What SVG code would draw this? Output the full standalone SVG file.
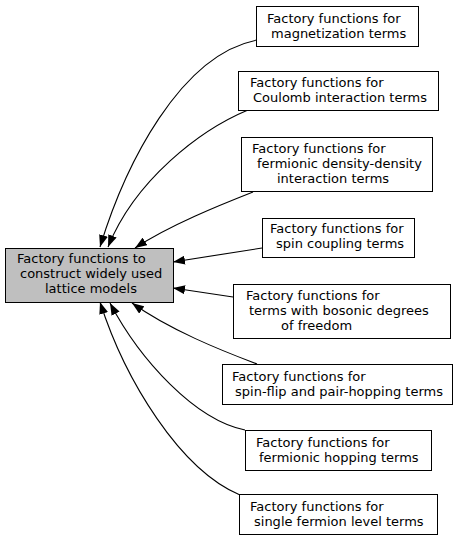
<svg xmlns="http://www.w3.org/2000/svg" width="460" height="541" viewBox="0 0 460 541">
<style>
.box{fill:#ffffff;stroke:#000000;stroke-width:1}
.main{fill:#bfbfbf;stroke:#000000;stroke-width:1}
text{font-family:"DejaVu Sans",sans-serif;font-size:13px;fill:#000000}
.edge{fill:none;stroke:#000000;stroke-width:1.1;marker-end:url(#ah)}
</style>
<defs>
<marker id="ah" viewBox="0 0 12 9" refX="12" refY="4.5" markerWidth="12" markerHeight="9" markerUnits="userSpaceOnUse" orient="auto">
<path d="M0,0 L12,4.5 L0,9 z" fill="#000000"/>
</marker>
</defs>
<rect width="460" height="541" fill="#ffffff"/>
<g id="connectors">
<path class="edge" d="M257,40 C180,55 125,165 100,247"/>
<path class="edge" d="M248,110 C200,130 135,180 108,247"/>
<path class="edge" d="M253,192 C220,205 170,225 135,248"/>
<path class="edge" d="M262,248 L173,262"/>
<path class="edge" d="M233,297 L173,288"/>
<path class="edge" d="M257,364 C220,350 170,330 132,303"/>
<path class="edge" d="M245,430 C195,420 140,360 110,303"/>
<path class="edge" d="M240,495 C180,470 125,380 100,302"/>
</g>
<g id="main">
<rect class="main" x="5.5" y="248.5" width="168" height="54"/>
<text x="17" y="263">Factory functions to</text>
<text x="20" y="278">construct widely used</text>
<text x="45" y="293">lattice models</text>
</g>
<g id="magnetization">
<rect class="box" x="256.5" y="6.5" width="162" height="40"/>
<text x="267" y="22.5">Factory functions for</text>
<text x="271" y="37.5">magnetization terms</text>
</g>
<g id="coulomb">
<rect class="box" x="238.5" y="71.5" width="200" height="39"/>
<text x="250" y="87">Factory functions for</text>
<text x="253" y="102">Coulomb interaction terms</text>
</g>
<g id="density">
<rect class="box" x="241.5" y="137.5" width="191" height="54"/>
<text x="252" y="153">Factory functions for</text>
<text x="257" y="168">fermionic density-density</text>
<text x="277" y="183">interaction terms</text>
</g>
<g id="spincoupling">
<rect class="box" x="262.5" y="218.5" width="152" height="39"/>
<text x="270" y="233">Factory functions for</text>
<text x="276" y="248">spin coupling terms</text>
</g>
<g id="bosonic">
<rect class="box" x="233.5" y="284.5" width="217" height="54"/>
<text x="246" y="300">Factory functions for</text>
<text x="249" y="315">terms with bosonic degrees</text>
<text x="281" y="330">of freedom</text>
</g>
<g id="spinflip">
<rect class="box" x="222.5" y="364.5" width="230" height="40"/>
<text x="232" y="381">Factory functions for</text>
<text x="235" y="396">spin-flip and pair-hopping terms</text>
</g>
<g id="hopping">
<rect class="box" x="245.5" y="430.5" width="186" height="40"/>
<text x="256" y="447">Factory functions for</text>
<text x="259" y="462">fermionic hopping terms</text>
</g>
<g id="singlelevel">
<rect class="box" x="239.5" y="494.5" width="198" height="40"/>
<text x="250" y="511">Factory functions for</text>
<text x="254" y="526">single fermion level terms</text>
</g>
</svg>
